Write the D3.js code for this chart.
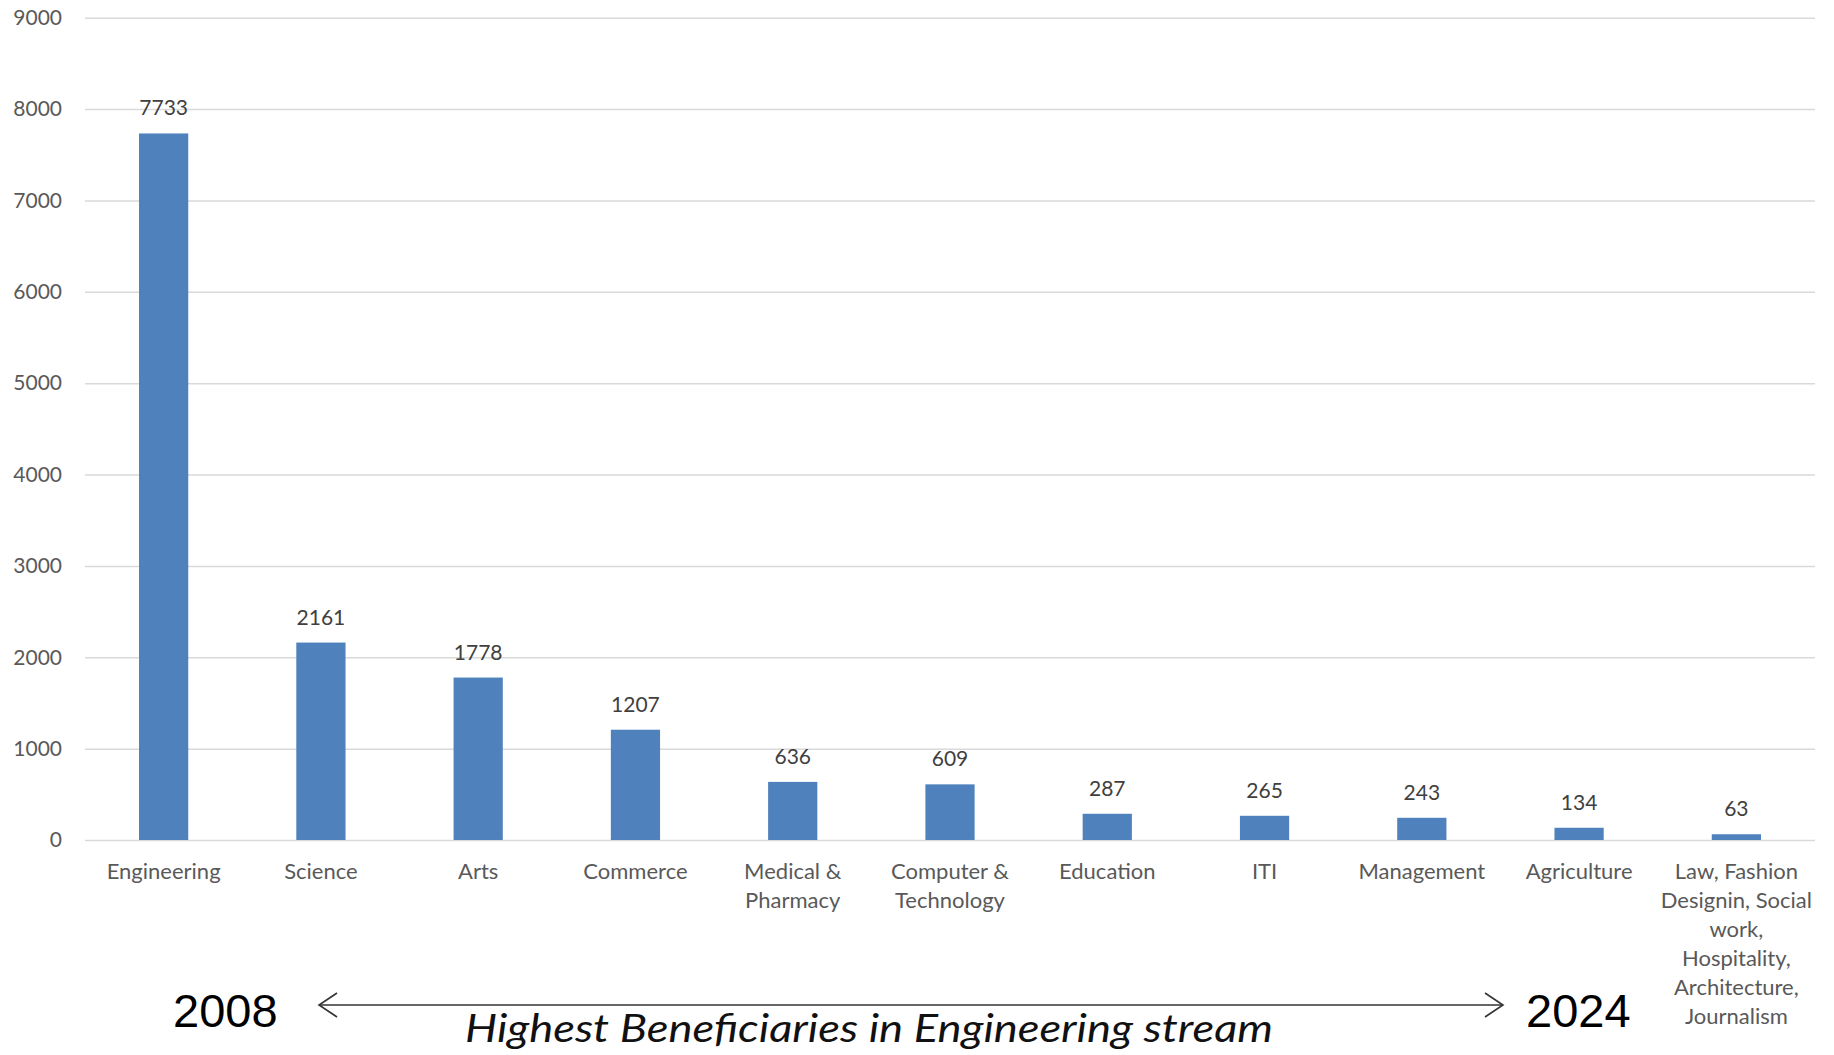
<!DOCTYPE html>
<html>
<head>
<meta charset="utf-8">
<script src="https://cdn.jsdelivr.net/npm/d3@7"></script>
<style>
  html, body { margin: 0; padding: 0; background: #fff; }
  svg { display: block; }
</style>
</head>
<body>
<svg id="chart" width="1834" height="1055"></svg>
<script>
const categories = [
  "Engineering", "Science", "Arts", "Commerce", "Medical &\nPharmacy",
  "Computer &\nTechnology", "Education", "ITI", "Management", "Agriculture",
  "Law, Fashion\nDesignin, Social\nwork,\nHospitality,\nArchitecture,\nJournalism"
];
const values = [7733, 2161, 1778, 1207, 636, 609, 287, 265, 243, 134, 63];
const yTicks = [0, 1000, 2000, 3000, 4000, 5000, 6000, 7000, 8000, 9000];
const startYear = "2008";
const endYear = "2024";
const annotation = "Highest Beneficiaries in Engineering stream";

const svg = d3.select("#chart");
const plotLeft = 85, plotRight = 1815, plotTop = 17.7, plotBottom = 840;

const x = d3.scaleBand().domain(categories).range([plotLeft, plotRight]).padding(0);
const y = d3.scaleLinear().domain([0, 9000]).range([plotBottom, plotTop]);
const barW = x.bandwidth() * 0.313;

// gridlines + y labels via axis
const yAxis = d3.axisLeft(y).tickValues(yTicks).tickSize(-(plotRight - plotLeft)).tickPadding(23).tickFormat(d3.format("d"));
const gy = svg.append("g").attr("transform", `translate(${plotLeft},0)`).call(yAxis);
gy.select(".domain").remove();
gy.selectAll(".tick line").attr("stroke", "#d9d9d9").attr("stroke-width", 1.5);
gy.selectAll(".tick text")
  .attr("fill", "#595959")
  .style("font-family", "Lato, 'Open Sans', sans-serif")
  .style("font-size", "21px");

// bars
svg.append("g").selectAll("rect").data(values).join("rect")
  .attr("x", (d, i) => x(categories[i]) + x.bandwidth() / 2 - barW / 2)
  .attr("y", d => y(d))
  .attr("width", barW)
  .attr("height", d => y(0) - y(d))
  .attr("fill", "#4f81bd");

// value labels
svg.append("g").selectAll("text").data(values).join("text")
  .attr("x", (d, i) => x(categories[i]) + x.bandwidth() / 2)
  .attr("y", d => y(d) - 18)
  .attr("text-anchor", "middle")
  .attr("fill", "#404040")
  .style("font-family", "Lato, 'Open Sans', sans-serif")
  .style("font-size", "21px")
  .text(d => d);

// category labels
const cat = svg.append("g").selectAll("text").data(categories).join("text")
  .attr("text-anchor", "middle")
  .attr("fill", "#595959")
  .style("font-family", "Lato, 'Open Sans', sans-serif")
  .style("font-size", "22px");
cat.each(function(d) {
  const t = d3.select(this);
  const cx = x(d) + x.bandwidth() / 2;
  d.split("\n").forEach((line, k) => {
    t.append("tspan").attr("x", cx).attr("y", 879 + k * 29).text(line);
  });
});

// bottom annotation
svg.append("text").attr("x", 173).attr("y", 1027)
  .style("font-family", "'Liberation Sans', Arial, sans-serif").style("font-size", "47px")
  .attr("fill", "#000").text(startYear);
svg.append("text").attr("x", 1526).attr("y", 1027)
  .style("font-family", "'Liberation Sans', Arial, sans-serif").style("font-size", "47px")
  .attr("fill", "#000").text(endYear);

const ay = 1005, ax1 = 319, ax2 = 1503;
const arrow = svg.append("g").attr("stroke", "#333").attr("stroke-width", 1.6).attr("fill", "none");
arrow.append("line").attr("x1", ax1).attr("y1", ay).attr("x2", ax2).attr("y2", ay);
arrow.append("path").attr("d", `M${ax1 + 18},${ay - 12} L${ax1},${ay} L${ax1 + 18},${ay + 12}`);
arrow.append("path").attr("d", `M${ax2 - 18},${ay - 12} L${ax2},${ay} L${ax2 - 18},${ay + 12}`);

svg.append("text").attr("x", 465).attr("y", 1042)
  .style("font-family", "Lato, 'Open Sans', sans-serif").style("font-size", "38px").style("font-style", "italic")
  .attr("fill", "#111")
  .attr("textLength", 808).attr("lengthAdjust", "spacingAndGlyphs")
  .text(annotation);
</script>
</body>
</html>
